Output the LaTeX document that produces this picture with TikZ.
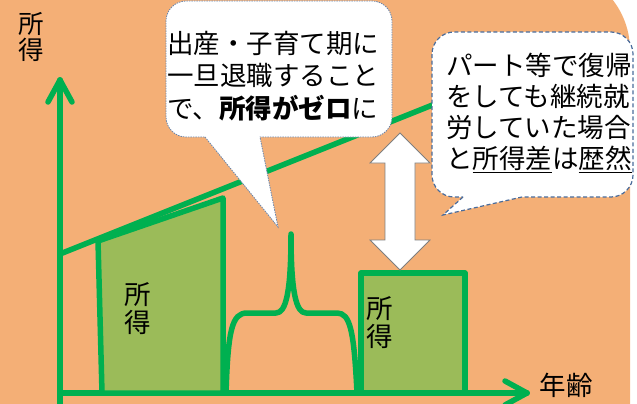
\documentclass[tikz,border=0pt]{standalone}
\usepackage{fontspec}
\setmainfont{Noto Sans CJK JP}
\definecolor{bgorange}{HTML}{F4AF76}
\definecolor{lgreen}{HTML}{00B050}
\definecolor{boxfill}{HTML}{9BBB59}
\definecolor{calloutA}{HTML}{6B84A8}
\definecolor{calloutB}{HTML}{4A6C9B}
\definecolor{arrowgray}{HTML}{7F7F7F}
\begin{document}
\begin{tikzpicture}[x=1pt,y=-1pt,
  gline/.style={draw=lgreen, line width=5.5pt, line cap=round, line join=round},
  incomebox/.style={gline, fill=boxfill},
  jtext/.style={font=\fontsize{26.5pt}{28pt}\selectfont, text=black, inner sep=0pt},
  calltext/.style={font=\fontsize{26.5pt}{32.5pt}\selectfont, text=black, inner sep=0pt, align=left},
  calloutone/.style={fill=white, draw=calloutA, line width=0.8pt, dash pattern=on 1.5pt off 1pt},
  callouttwo/.style={fill=white, draw=calloutB, line width=1.2pt, dash pattern=on 4pt off 2.5pt},
  gaparrow/.style={fill=white, draw=arrowgray, line width=0.8pt, line join=miter}]
\useasboundingbox (0,0) rectangle (637,404);
\clip (0,0) rectangle (637,404);
% background
\fill[bgorange] (0,-40) -- (548,-40) -- (548,-32) .. controls (593,-32) and (630,5) .. (630,50) -- (630,410) -- (0,410) -- cycle;

% axes
\coordinate (O) at (60,393);
\coordinate (ybot) at (60,410);
\coordinate (ytip) at (60,80);
\coordinate (xtip) at (527,393);
\draw[gline] (ybot) -- (ytip);
\draw[gline] (ytip) -- ++(-12,22);
\draw[gline] (ytip) -- ++(12,22);
\draw[gline] (O) -- (xtip);
\draw[gline] (xtip) -- ++(-22,-12);
\draw[gline] (xtip) -- ++(-22,12);

% rising line (continuous career)
\coordinate (r0) at (60,254);
\coordinate (r1) at (445,100);
\draw[gline] (r0) -- (r1);

% income box 1
\draw[incomebox] (98,241) -- (223,198) -- (223,393) -- (102,393) -- cycle;
\node[jtext, align=center] (lab1) at (138,309) {所\\得};

% income box 2
\draw[incomebox] (361,273) rectangle (465,393);
\node[jtext, align=center] (lab2) at (380,323) {所\\得};

% zero-income curve
\draw[gline] (226,393) .. controls (228,330) and (232,313) .. (247,313)
  -- (276,313) .. controls (286,313) and (291,292) .. (291,234)
  .. controls (291,292) and (296,313) .. (306,313)
  -- (337,313) .. controls (350,313) and (354,330) .. (357,393);

% double arrow
\draw[gaparrow] (400,133) -- (430,163) -- (415,163) -- (415,240) -- (430,240)
  -- (400,270) -- (370,240) -- (385,240) -- (385,163) -- (370,163) -- cycle;

% callout 1
\draw[calloutone] (205,137) -- (278,227) -- (260,137) -- (372,137)
  .. controls (383,137) and (392,128) .. (392,117) -- (392,21)
  .. controls (392,10) and (383,1) .. (372,1) -- (186,1)
  .. controls (175,1) and (166,10) .. (166,21) -- (166,117)
  .. controls (166,128) and (175,137) .. (186,137) -- cycle;
\node[calltext, anchor=west] (c1) at (167,76) {出産・子育て期に\\一旦退職すること\\で、\textbf{所得がゼロ}に};

% callout 2
\draw[callouttwo] (463,197) -- (443,215) -- (522,197) -- (611,197)
  .. controls (623,197) and (633,187) .. (633,175) -- (633,54)
  .. controls (633,42) and (623,32) .. (611,32) -- (454,32)
  .. controls (442,32) and (432,42) .. (432,54) -- (432,175)
  .. controls (432,187) and (442,197) .. (454,197) -- cycle;
\node[calltext, anchor=west, font=\fontsize{26.5pt}{31pt}\selectfont] (c2) at (446,113) {パート等で復帰\\をしても継続就\\労していた場合\\と\underline{所得差}は\underline{歴然}};

% axis labels
\node[jtext, align=center, font=\fontsize{25.5pt}{26pt}\selectfont] (ylab) at (31,37) {所\\得};
\node[jtext] (xlab) at (566,385) {年齢};
\end{tikzpicture}
\end{document}
